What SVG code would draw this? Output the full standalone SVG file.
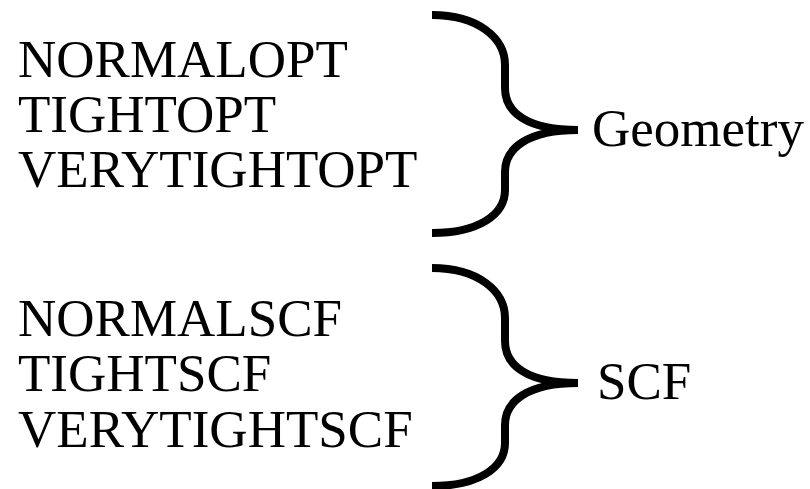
<svg xmlns="http://www.w3.org/2000/svg" width="810" height="489" viewBox="0 0 810 489">
  <style>
    .lbl { font-family: 'Liberation Serif', 'Times New Roman', Times, serif; font-size: 53px; fill: #000; }
    .brace { fill: none; stroke: #000; stroke-width: 8; stroke-linecap: butt; stroke-linejoin: round; }
  </style>
  <defs>
    <!-- curly brace, opening to the left, tip at (578,130) -->
    <path id="brace" class="brace" d="M432,15 C478,15 505,38 505,65 L505,88 C505,113 528,130 578,130 M578,130 C528,130 505,148 505,172 L505,190 C505,215 478,233 432,233"/>
  </defs>
  <rect width="810" height="489" fill="#fff"/>

  <g id="opt-levels" class="lbl">
    <text x="18" y="77">NORMALOPT</text>
    <text x="18" y="132">TIGHTOPT</text>
    <text x="18" y="187">VERYTIGHTOPT</text>
  </g>
  <g id="scf-levels" class="lbl">
    <text x="18" y="336">NORMALSCF</text>
    <text x="18" y="391">TIGHTSCF</text>
    <text x="18" y="447">VERYTIGHTSCF</text>
  </g>
  <g id="geometry" class="lbl">
    <text x="592" y="146">Geometry</text>
  </g>
  <g id="scf" class="lbl">
    <text x="597" y="399">SCF</text>
  </g>

  <g id="connectors">
    <use href="#brace"/>
    <use href="#brace" transform="translate(0,253)"/>
  </g>
</svg>
